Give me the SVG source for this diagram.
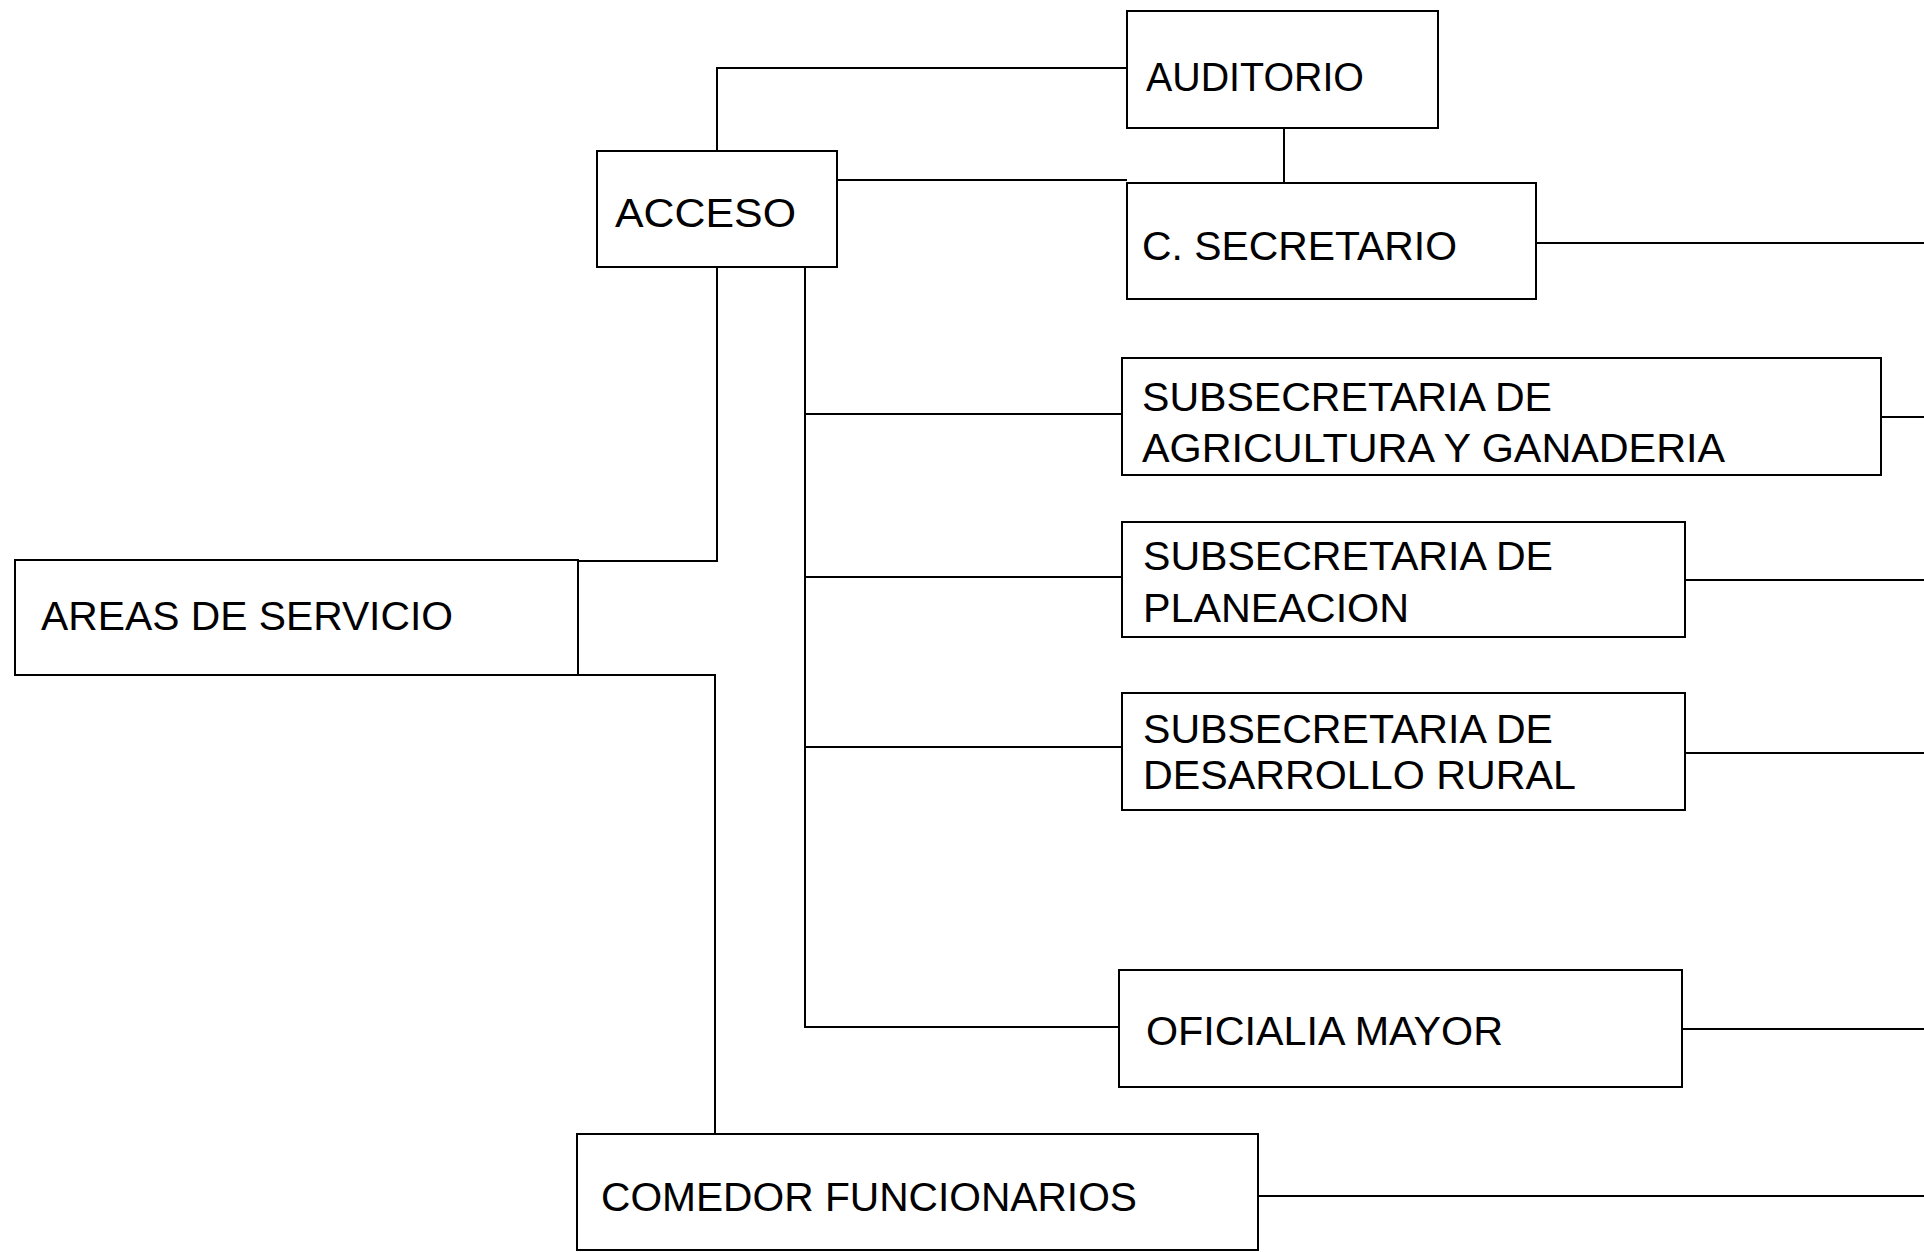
<svg xmlns="http://www.w3.org/2000/svg" width="1924" height="1252" viewBox="0 0 1924 1252">
<style>
.box{fill:#fff;stroke:#000;stroke-width:2}
.ln{fill:none;stroke:#000;stroke-width:2}
text{font-family:"Liberation Sans",Arial,sans-serif;font-size:41px;fill:#000}
</style>
<rect width="1924" height="1252" fill="#fff"/>
<g id="connectors">
<polyline class="ln" points="1127,68 717,68 717,151"/>
<polyline class="ln" points="717,267 717,561 578,561"/>
<polyline class="ln" points="578,675 715,675 715,1134"/>
<line class="ln" x1="837" y1="180" x2="1127" y2="180"/>
<line class="ln" x1="1284" y1="128" x2="1284" y2="183"/>
<polyline class="ln" points="805,267 805,1027 1119,1027"/>
<line class="ln" x1="805" y1="414" x2="1122" y2="414"/>
<line class="ln" x1="805" y1="577" x2="1122" y2="577"/>
<line class="ln" x1="805" y1="747" x2="1122" y2="747"/>
<line class="ln" x1="1536" y1="243" x2="1924" y2="243"/>
<line class="ln" x1="1881" y1="417" x2="1924" y2="417"/>
<line class="ln" x1="1685" y1="580" x2="1924" y2="580"/>
<line class="ln" x1="1685" y1="753" x2="1924" y2="753"/>
<line class="ln" x1="1682" y1="1029" x2="1924" y2="1029"/>
<line class="ln" x1="1258" y1="1196" x2="1924" y2="1196"/>
</g>
<g id="auditorio"><rect class="box" x="1127" y="11" width="311" height="117"/><text x="1146" y="91" textLength="218" lengthAdjust="spacingAndGlyphs">AUDITORIO</text></g>
<g id="acceso"><rect class="box" x="597" y="151" width="240" height="116"/><text x="615" y="227" textLength="181" lengthAdjust="spacingAndGlyphs">ACCESO</text></g>
<g id="c-secretario"><rect class="box" x="1127" y="183" width="409" height="116"/><text x="1142" y="260" textLength="315" lengthAdjust="spacingAndGlyphs">C. SECRETARIO</text></g>
<g id="subsecretaria-agricultura"><rect class="box" x="1122" y="358" width="759" height="117"/><text x="1142" y="411" textLength="410" lengthAdjust="spacingAndGlyphs">SUBSECRETARIA DE</text><text x="1142" y="462" textLength="583" lengthAdjust="spacingAndGlyphs">AGRICULTURA Y GANADERIA</text></g>
<g id="subsecretaria-planeacion"><rect class="box" x="1122" y="522" width="563" height="115"/><text x="1143" y="570" textLength="410" lengthAdjust="spacingAndGlyphs">SUBSECRETARIA DE</text><text x="1143" y="622" textLength="266" lengthAdjust="spacingAndGlyphs">PLANEACION</text></g>
<g id="subsecretaria-desarrollo"><rect class="box" x="1122" y="693" width="563" height="117"/><text x="1143" y="743" style="font-size:40px" textLength="410" lengthAdjust="spacingAndGlyphs">SUBSECRETARIA DE</text><text x="1143" y="789" style="font-size:40px" textLength="433" lengthAdjust="spacingAndGlyphs">DESARROLLO RURAL</text></g>
<g id="oficialia-mayor"><rect class="box" x="1119" y="970" width="563" height="117"/><text x="1146" y="1045" textLength="357" lengthAdjust="spacingAndGlyphs">OFICIALIA MAYOR</text></g>
<g id="areas-servicio"><rect class="box" x="15" y="560" width="563" height="115"/><text x="41" y="630" textLength="412" lengthAdjust="spacingAndGlyphs">AREAS DE SERVICIO</text></g>
<g id="comedor-funcionarios"><rect class="box" x="577" y="1134" width="681" height="116"/><text x="601" y="1211" textLength="536" lengthAdjust="spacingAndGlyphs">COMEDOR FUNCIONARIOS</text></g>
</svg>
